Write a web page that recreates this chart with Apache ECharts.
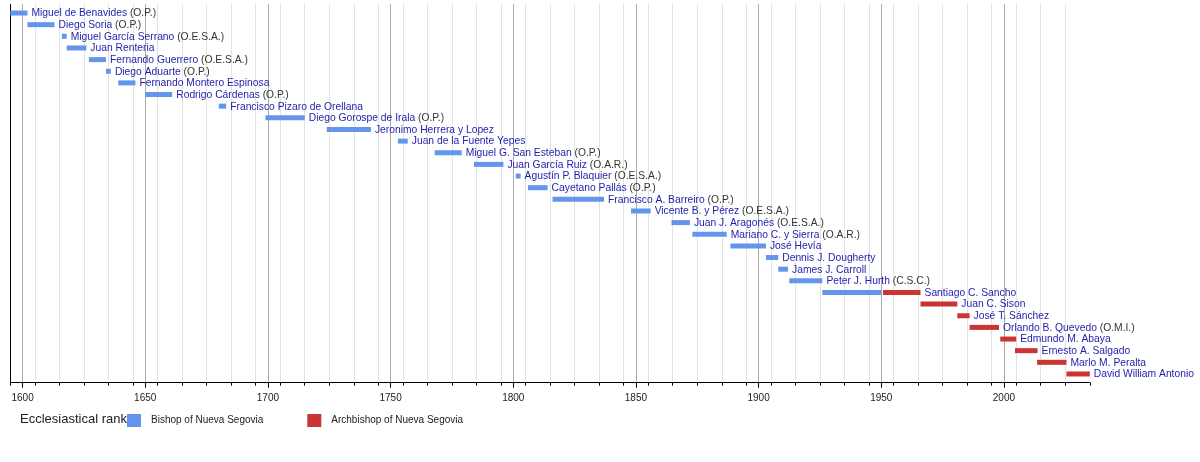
<!DOCTYPE html>
<html style="height: 100%">
<head>
  <meta charset="utf-8">
  <title>Bishops of Nueva Segovia</title>
  <script src="https://cdn.jsdelivr.net/npm/echarts@6.0.0/dist/echarts.min.js"></script>
</head>
<body style="margin:0;height:100%;background:#fff">
  <div id="main" style="width:1200px;height:462px"></div>
  <script>
    // one row per prelate, top to bottom
    var names = [
      'Miguel de Benavides', 'Diego Soria', 'Miguel García Serrano', 'Juan Renteria',
      'Fernando Guerrero', 'Diego Aduarte', 'Fernando Montero Espinosa', 'Rodrigo Cárdenas',
      'Francisco Pizaro de Orellana', 'Diego Gorospe de Irala', 'Jeronimo Herrera y Lopez',
      'Juan de la Fuente Yepes', 'Miguel G. San Esteban', 'Juan García Ruiz',
      'Agustín P. Blaquier', 'Cayetano Pallás', 'Francisco A. Barreiro', 'Vicente B. y Pérez',
      'Juan J. Aragonés', 'Mariano C. y Sierra', 'José Hevía', 'Dennis J. Dougherty',
      'James J. Carroll', 'Peter J. Hurth', 'Santiago C. Sancho', 'Juan C. Sison',
      'José T. Sánchez', 'Orlando B. Quevedo', 'Edmundo M. Abaya', 'Ernesto A. Salgado',
      'Marlo M. Peralta', 'David William Antonio'
    ];
    var orders = [
      '(O.P.)', '(O.P.)', '(O.E.S.A.)', '', '(O.E.S.A.)', '(O.P.)', '', '(O.P.)',
      '', '(O.P.)', '', '', '(O.P.)', '(O.A.R.)', '(O.E.S.A.)', '(O.P.)',
      '(O.P.)', '(O.E.S.A.)', '(O.E.S.A.)', '(O.A.R.)', '', '', '', '(C.S.C.)',
      '', '', '', '(O.M.I.)', '', '', '', ''
    ];
    var bishopFrom = [
      1595, 1602, 1616, 1618, 1627, 1634, 1639, 1650, 1680, 1699, 1724, 1753, 1768, 1784,
      1801, 1806, 1816, 1848, 1864.5, 1873, 1888.5, 1903, 1908, 1912.5, 1926,
      null, null, null, null, null, null, null
    ];
    var bishopTo = [
      1602, 1613, 1618, 1626, 1634, 1636, 1646, 1661, 1683, 1715, 1742, 1757, 1779, 1796,
      1803, 1814, 1837, 1856, 1872, 1887, 1903, 1908, 1912, 1926, 1950,
      null, null, null, null, null, null, null
    ];
    var archFrom = [
      null, null, null, null, null, null, null, null, null, null, null, null, null, null,
      null, null, null, null, null, null, null, null, null, null,
      1950.7, 1966, 1981, 1986, 1998.5, 2004.5, 2013.5, 2025.5
    ];
    var archTo = [
      null, null, null, null, null, null, null, null, null, null, null, null, null, null,
      null, null, null, null, null, null, null, null, null, null,
      1966, 1981, 1986, 1998, 2005, 2013.7, 2025.5, 2035
    ];
    var majorYears = [1600, 1650, 1700, 1750, 1800, 1850, 1900, 1950, 2000];
    var minorTicks = [];
    for (var y = 1595; y <= 2035; y += 10) minorTicks.push(y);

    var FONT = '"Liberation Sans", Arial, sans-serif';
    var BLUE = '#6495ed', RED = '#cc3333';

    function segments(from, to, labelled) {
      var out = [];
      from.forEach(function (s, i) {
        if (s == null) return;
        out.push({ value: [i, s, to[i]], showLabel: labelled(i) });
      });
      return out;
    }
    var bishopData = segments(bishopFrom, bishopTo, function (i) { return archFrom[i] == null; });
    var archData = segments(archFrom, archTo, function () { return true; });

    function makeRender(data, color) {
      return function (params, api) {
        var row = api.value(0);
        var a = api.coord([api.value(1), row]);
        var b = api.coord([api.value(2), row]);
        var kids = [{
          type: 'rect',
          shape: { x: a[0], y: a[1] - 2.5, width: b[0] - a[0], height: 5 },
          style: { fill: color }
        }];
        if (data[params.dataIndex].showLabel) {
          var txt = '{n|' + names[row] + '}' + (orders[row] ? ' {o|' + orders[row] + '}' : '');
          kids.push({
            type: 'text',
            x: b[0] + 4,
            y: a[1] + 0.5,
            style: {
              text: txt,
              verticalAlign: 'middle',
              align: 'left',
              fontSize: 10.3,
              fontFamily: FONT,
              rich: {
                n: { fill: '#1e1eaa', fontSize: 10.3, fontFamily: FONT },
                o: { fill: '#333333', fontSize: 10.3, fontFamily: FONT }
              }
            }
          });
        }
        return { type: 'group', children: kids };
      };
    }

    var chart = echarts.init(document.getElementById('main'));
    var xBase = { type: 'value', min: 1595, max: 2035, interval: 5, position: 'bottom' };

    chart.setOption({
      animation: false,
      color: [BLUE, RED],
      title: {
        text: 'Ecclesiastical rank',
        left: 20, top: 413, padding: 0,
        textStyle: { fontSize: 13, fontWeight: 'normal', color: '#222', fontFamily: FONT }
      },
      legend: {
        left: 127, top: 414, padding: 0,
        icon: 'rect', itemWidth: 14, itemHeight: 13, itemGap: 44,
        textStyle: { fontSize: 10, color: '#222', fontFamily: FONT, padding: [2, 0, 0, 5] },
        data: ['Bishop of Nueva Segovia', 'Archbishop of Nueva Segovia']
      },
      grid: { left: 10.3, right: 110.2, top: 4.3, bottom: 79.3, containLabel: false },
      xAxis: [
        Object.assign({}, xBase, {
          axisLine: { show: true, onZero: false, lineStyle: { color: '#000', width: 1 } },
          axisTick: { show: false },
          axisLabel: { show: false },
          splitLine: {
            show: true, showMaxLine: false,
            lineStyle: {
              width: 1,
              color: ['#e2e2e2', '#aaaaaa', '#e2e2e2', 'rgba(0,0,0,0)', '#e2e2e2',
                      'rgba(0,0,0,0)', '#e2e2e2', 'rgba(0,0,0,0)', '#e2e2e2', 'rgba(0,0,0,0)']
            }
          }
        }),
        Object.assign({}, xBase, {
          axisLine: { show: false, onZero: false },
          axisTick: { show: true, customValues: minorTicks, length: 3, lineStyle: { color: '#000' } },
          axisLabel: { show: false },
          splitLine: { show: false }
        }),
        Object.assign({}, xBase, {
          axisLine: { show: false, onZero: false },
          axisTick: { show: true, customValues: majorYears, length: 5, lineStyle: { color: '#000' } },
          axisLabel: {
            show: true, customValues: majorYears, margin: 11,
            fontSize: 10, color: '#222', fontFamily: FONT,
            formatter: function (v) { return String(v); }
          },
          splitLine: { show: false }
        })
      ],
      yAxis: {
        type: 'value', inverse: true, min: -0.75, max: 31.75,
        axisLine: { show: true, onZero: false, lineStyle: { color: '#000' } },
        axisTick: { show: false },
        axisLabel: { show: false },
        splitLine: { show: false }
      },
      series: [
        {
          name: 'Bishop of Nueva Segovia',
          type: 'custom',
          xAxisIndex: 0,
          itemStyle: { color: BLUE },
          encode: { x: [1, 2], y: 0 },
          data: bishopData,
          renderItem: makeRender(bishopData, BLUE)
        },
        {
          name: 'Archbishop of Nueva Segovia',
          type: 'custom',
          xAxisIndex: 0,
          itemStyle: { color: RED },
          encode: { x: [1, 2], y: 0 },
          data: archData,
          renderItem: makeRender(archData, RED)
        }
      ]
    });
  </script>
</body>
</html>
